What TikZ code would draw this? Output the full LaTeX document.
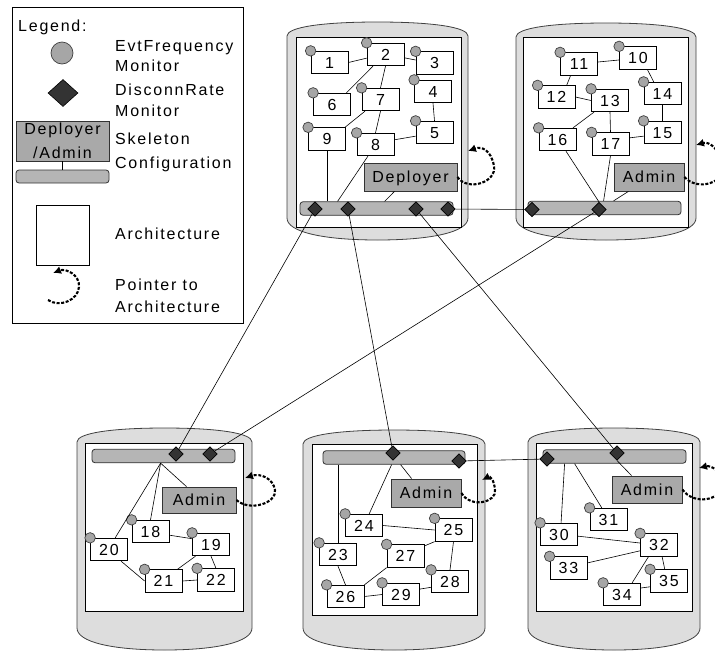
\documentclass[tikz,border=0pt]{standalone}
\usepackage{fontspec}
\setmainfont{Liberation Sans}[LetterSpace=11]
\usetikzlibrary{shapes.geometric,arrows.meta}

\definecolor{hostgray}{HTML}{DDDDDD}
\definecolor{bargray}{HTML}{B5B5B5}
\definecolor{mgrgray}{HTML}{A9A9A9}
\definecolor{mongray}{HTML}{A6A6A6}
\definecolor{darkdia}{HTML}{333333}

% host machine outline: left, right, top-centre, bottom-centre
\newcommand\hostshape[4]{%
  \pgfmathsetmacro\hostmid{(#1+#2)/2}%
  \pgfmathsetmacro\hostbow{(#2-#1)*0.3}%
  \draw[host] (#1,#3+14) -- (#1,#4-22)
    .. controls (#1,#4-8) and (\hostmid-\hostbow,#4) .. (\hostmid,#4)
    .. controls (\hostmid+\hostbow,#4) and (#2,#4-8) .. (#2,#4-22)
    -- (#2,#3+14)
    .. controls (#2,#3+5) and (\hostmid+\hostbow,#3) .. (\hostmid,#3)
    .. controls (\hostmid-\hostbow,#3) and (#1,#3+5) .. cycle;}

% component box with its event-frequency monitor at the top-left corner
\newcommand\compnode[4]{%
  \node[comp] (#1) at (#2,#3) {#4};
  \node[mon] (#1m) at (#1.north west) {};}

\begin{document}
\begin{tikzpicture}[x=1pt,y=-1pt,
  txt/.style={font=\fontsize{16}{19}\selectfont, inner sep=0pt},
  lgtext/.style={txt, anchor=base west},
  comp/.style={txt, draw=black, fill=white, line width=0.8pt,
    minimum width=37pt, minimum height=22.5pt, text height=11.5pt, text depth=0pt},
  mon/.style={circle, draw=black!75, fill=mongray, line width=0.7pt,
    minimum size=10.5pt, inner sep=0pt},
  mgr/.style={txt, draw=black!80, fill=mgrgray, line width=0.8pt,
    minimum height=28pt, text height=11.5pt, text depth=0pt},
  barnode/.style={draw=black!80, fill=bargray, rounded corners=3pt,
    line width=0.8pt, minimum height=13.5pt, inner sep=0pt},
  dia/.style={diamond, draw=black, fill=darkdia, minimum width=14.5pt,
    minimum height=14.5pt, inner sep=0pt, line width=0.6pt},
  arch/.style={draw=black, fill=white, line width=0.8pt},
  host/.style={draw=black!75, fill=hostgray, line width=0.8pt},
  link/.style={draw=black, line width=0.6pt},
  ptr/.style={line width=2.1pt, dash pattern=on 3pt off 1.6pt,
    -{Latex[length=8pt,width=8pt]}}
]
\useasboundingbox (0,0) rectangle (715,651);

% ---------------- legend ----------------
\draw[line width=0.8pt] (12,7) rectangle (243,323);
\node[lgtext] (lgHead) at (18,31) {Legend:};
\node[mon, minimum size=22pt] (lgMon) at (62,53) {};
\node[lgtext] (lgT1) at (115,51) {EvtFrequency};
\node[lgtext] (lgT2) at (115,71) {Monitor};
\node[dia, minimum width=30pt, minimum height=27pt] (lgDia) at (63,93) {};
\node[lgtext] (lgT3) at (115,95) {DisconnRate};
\node[lgtext] (lgT4) at (115,116) {Monitor};
\node[mgr, minimum width=93pt, minimum height=40pt] (lgMgr) at (62.5,141) {};
\node[txt, anchor=base] (lgMgrA) at (62.5,134) {Deployer};
\node[txt, anchor=base] (lgMgrB) at (62.5,158) {/Admin};
\node[barnode, minimum width=93pt, minimum height=13pt] (lgBar) at (62.5,176.5) {};
\draw[link] (lgMgr.south) -- (lgBar.north);
\node[lgtext] (lgT5) at (115,144) {Skeleton};
\node[lgtext] (lgT6) at (115,168) {Configuration};
\node[arch, minimum width=53pt, minimum height=60pt] (lgArch) at (62.5,235) {};
\node[lgtext] (lgT7) at (115,239) {Architecture};
\coordinate (lgPtrA) at (48,300);
\coordinate (lgPtrB) at (53,273);
\draw[ptr] (lgPtrA) .. controls (60,308) and (78,300) .. (79,287)
  .. controls (80,275) and (66,268) .. (lgPtrB);
\node[lgtext] (lgT8) at (115,290) {Pointer to};
\node[lgtext] (lgT9) at (115,312) {Architecture};

% ---------------- host outlines ----------------
\hostshape{287}{468}{22}{240}
\hostshape{516}{696}{23}{240}
\hostshape{77}{252}{428}{650}
\hostshape{303}{485}{430}{650}
\hostshape{528}{700}{428}{650}
\draw[arch] (296,37) rectangle (461,227);
\draw[arch] (523,37) rectangle (688,227);
\draw[arch] (85,443) rectangle (243,611);
\draw[arch] (312,444) rectangle (477,615);
\draw[arch] (536,443) rectangle (692,611);

% ---------------- skeleton bars and connectors ----------------
\node[barnode, minimum width=153pt] (barTL) at (376.5,208.5) {};
\node[barnode, minimum width=153pt] (barTR) at (604.5,208) {};
\node[barnode, minimum width=143pt] (barBL) at (163.5,456) {};
\node[barnode, minimum width=142pt] (barBM) at (394,457.5) {};
\node[barnode, minimum width=143pt] (barBR) at (614.5,456.5) {};

\node[dia] (dTL1) at (315,209) {};
\node[dia] (dTL2) at (348,209) {};
\node[dia] (dTL3) at (416,209) {};
\node[dia] (dTL4) at (448,209) {};
\node[dia] (dTR1) at (532,209.5) {};
\node[dia] (dTR2) at (599,209.5) {};
\node[dia] (dBL1) at (176,454) {};
\node[dia] (dBL2) at (210,454) {};
\node[dia] (dBM1) at (393,453) {};
\node[dia] (dBM2) at (459,461) {};
\node[dia] (dBR1) at (547,459) {};
\node[dia] (dBR2) at (617,453) {};

% ---------------- managers ----------------
\node[mgr, minimum width=93pt] (dep) at (410.5,177) {Deployer};
\node[mgr, minimum width=70pt] (adTR) at (649,177) {Admin};
\node[mgr, minimum width=74pt, minimum height=26pt] (adBL) at (199,500) {Admin};
\node[mgr, minimum width=70pt] (adBM) at (426,493) {Admin};
\node[mgr, minimum width=70pt, minimum height=27pt] (adBR) at (647,489.5) {Admin};

% ---------------- components ----------------
\compnode{n1}{329.5}{62.5}{1}
\compnode{n2}{385.5}{54.5}{2}
\compnode{n3}{434.5}{63}{3}
\compnode{n4}{433}{91.5}{4}
\compnode{n5}{434.5}{132.5}{5}
\compnode{n6}{332}{104.5}{6}
\compnode{n7}{380.5}{99.5}{7}
\compnode{n8}{375.5}{144.5}{8}
\compnode{n9}{327}{139}{9}

\compnode{n10}{638}{58}{10}
\compnode{n11}{579}{64}{11}
\compnode{n12}{556.5}{97}{12}
\compnode{n13}{610}{100.5}{13}
\compnode{n14}{662.5}{93.5}{14}
\compnode{n15}{662.5}{132.5}{15}
\compnode{n16}{557.5}{139.5}{16}
\compnode{n17}{610.5}{144}{17}

\compnode{n18}{150.5}{531.5}{18}
\compnode{n19}{211}{544.5}{19}
\compnode{n20}{109}{549.5}{20}
\compnode{n21}{163.5}{581}{21}
\compnode{n22}{216}{580}{22}

\compnode{n23}{338}{554.5}{23}
\compnode{n24}{364}{525.5}{24}
\compnode{n25}{453.5}{530}{25}
\compnode{n26}{345.5}{596.5}{26}
\compnode{n27}{405.5}{556}{27}
\compnode{n28}{450}{581.5}{28}
\compnode{n29}{401}{594.5}{29}

\compnode{n30}{559}{534.5}{30}
\compnode{n31}{608.5}{519.5}{31}
\compnode{n32}{659}{545}{32}
\compnode{n33}{568.5}{568}{33}
\compnode{n34}{622}{594.5}{34}
\compnode{n35}{669}{581}{35}

% ---------------- architecture links ----------------
\draw[link] (n1.east) -- (n2.191);
\draw[link] (n2.-10) -- (n3.171);
\draw[link] (n2.223) -- (n6.39);
\draw[link] (n2.south) -- (n7.north);
\draw[link] (n4.south) -- (n5.north);
\draw[link] (n7.217) -- (n9.33);
\draw[link] (n7.south) -- (n8.north);
\draw[link] (n8.14) -- (n5.191);
\draw[link] (n9.south) -- (n9.south |- barTL.north);
\draw[link] (n8.237) -- ([xshift=38pt]barTL.north west);
\draw[link] (dep.222) -- ([xshift=85pt]barTL.north west);

\draw[link] (n11.6) -- (n10.186);
\draw[link] (n11.234) -- (n12.49);
\draw[link] (n12.east) -- (n13.west);
\draw[link] (n10.-51) -- (n14.127);
\draw[link] (n14.south) -- (n15.north);
\draw[link] (n13.216) -- (n16.37);
\draw[link] (n13.south) -- (n17.north);
\draw[link] (n17.18) -- (n15.191);
\draw[link] (n16.-54) -- (dTR2.north);
\draw[link] (n17.south) -- ([xshift=76pt]barTR.north west);
\draw[link] (adTR.215) -- ([xshift=86pt]barTR.north west);

\coordinate (hubBL) at ([xshift=69pt]barBL.south west);
\draw[link] (hubBL) -- (n20.62);
\draw[link] (hubBL) -- (n18.north);
\draw[link] (hubBL) -- (adBL.133);
\draw[link] (n18.-11) -- (n19.163);
\draw[link] (n20.-44) -- (n21.west);
\draw[link] (n19.217) -- (n21.40);
\draw[link] (n19.south) -- (n22.north);
\draw[link] (n21.east) -- (n22.west);

\draw[link] (n23.north |- barBM.south) -- (n23.north);
\draw[link] ([xshift=69pt]barBM.south west) -- (n24.66);
\draw[link] ([xshift=78pt]barBM.south west) -- (adBM.135);
\draw[link] (n24.east) -- (n25.west);
\draw[link] (n25.south west) -- (n27.28);
\draw[link] (n25.south) -- (n28.north);
\draw[link] (n23.south) -- (n26.north);
\draw[link] (n27.south west) -- (n26.north east);
\draw[link] (n26.east) -- (n29.west);
\draw[link] (n29.16) -- (n28.197);

\draw[link] ([xshift=22pt]barBR.south west) -- (n30.80);
\draw[link] ([xshift=32pt]barBR.south west) -- (n31.120);
\draw[link] (dBR2.south) -- (adBR.138);
\draw[link] (n30.-5) -- (n32.174);
\draw[link] (n33.15) -- (n32.197);
\draw[link] (n32.228) -- (n34.49);
\draw[link] (n32.-75) -- (n35.110);
\draw[link] (n34.19) -- (n35.197);

% ---------------- links between hosts ----------------
\draw[link] (dTL1) -- (dBL1);
\draw[link] (dTL2) -- (dBM1);
\draw[link] (dTL3) -- (dBR2);
\draw[link] (dTR2) -- (dBL2);
\draw[link] (dTL4) -- (dTR1);
\draw[link] (dBM2) -- (dBR1);

% ---------------- pointers to architecture ----------------
\coordinate (ptrTL) at (468,151);
\coordinate (ptrTR) at (696,145);
\coordinate (ptrBL) at (245,478);
\coordinate (ptrBM) at (482,480);
\coordinate (ptrBR) at (699,468);
\draw[ptr] (dep.east) .. controls (468,192) and (497,182) .. (494,166)
  .. controls (491,150) and (482,146) .. (ptrTL);
\draw[ptr] (adTR.east) .. controls (698,192) and (726,182) .. (723,166)
  .. controls (720,150) and (710,141) .. (ptrTR);
\draw[ptr] (adBL.east) .. controls (250,512) and (277,503) .. (275,490)
  .. controls (273,478) and (260,473) .. (ptrBL);
\draw[ptr] (adBM.east) .. controls (471,509) and (497,502) .. (495,490)
  .. controls (494,479) and (490,476) .. (ptrBM);
\draw[ptr] (adBR.east) .. controls (694,506) and (722,500) .. (722,485)
  .. controls (722,471) and (711,465) .. (ptrBR);
\end{tikzpicture}
\end{document}
